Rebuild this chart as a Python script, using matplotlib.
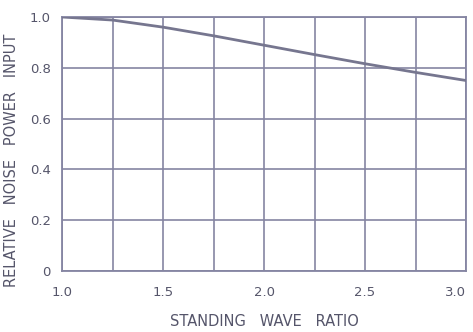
import matplotlib
matplotlib.use("Agg")
import matplotlib.pyplot as plt

# Relative noise power input vs. standing wave ratio
swr = [1.0, 1.25, 1.5, 1.75, 2.0, 2.25, 2.5, 2.75, 3.0]
noise_power = [1.0, 0.988, 0.96, 0.926, 0.889, 0.852, 0.816, 0.782, 0.75]

x_ticks = [1.0, 1.25, 1.5, 1.75, 2.0, 2.25, 2.5, 2.75, 3.0]
x_labels = ["1.0", "", "1.5", "", "2.0", "", "2.5", "", "3.0"]
y_ticks = [0, 0.2, 0.4, 0.6, 0.8, 1.0]
y_labels = ["0", "0.2", "0.4", "0.6", "0.8", "1.0"]

line_col = "#8585a2"
curve_col = "#76768f"
text_col = "#55556a"

fig = plt.figure(figsize=(4.73, 3.32), dpi=100)
ax = fig.add_axes([62 / 473, 1 - 271 / 332, 404 / 473, 254 / 332])

ax.plot(swr, noise_power, color=curve_col, lw=2.0, zorder=3,
        solid_joinstyle="round")

ax.set_xlim(1.0, 3.0)
ax.set_ylim(0, 1.0)
ax.set_xticks(x_ticks)
ax.set_xticklabels(x_labels)
ax.set_yticks(y_ticks)
ax.set_yticklabels(y_labels)
ax.tick_params(length=0, labelsize=9.5, colors=text_col, pad=8)
ax.tick_params(axis="x", pad=11)
for lbl in ax.get_xticklabels():
    if lbl.get_text() == "3.0":
        lbl.set_horizontalalignment("right")
        lbl.set_x(3.0)
ax.grid(True, color=line_col, lw=1.2)
for s in ax.spines.values():
    s.set_color(line_col)
    s.set_linewidth(1.3)

fig.text(264 / 473, 1 - 322 / 332, "STANDING   WAVE   RATIO", fontsize=10.5,
         color=text_col, ha="center", va="center")
fig.text(12 / 473, 1 - 160 / 332, "RELATIVE   NOISE   POWER   INPUT",
         fontsize=10.5, color=text_col, ha="center", va="center",
         rotation=90)

fig.savefig("out.png", dpi=100, facecolor="white")
